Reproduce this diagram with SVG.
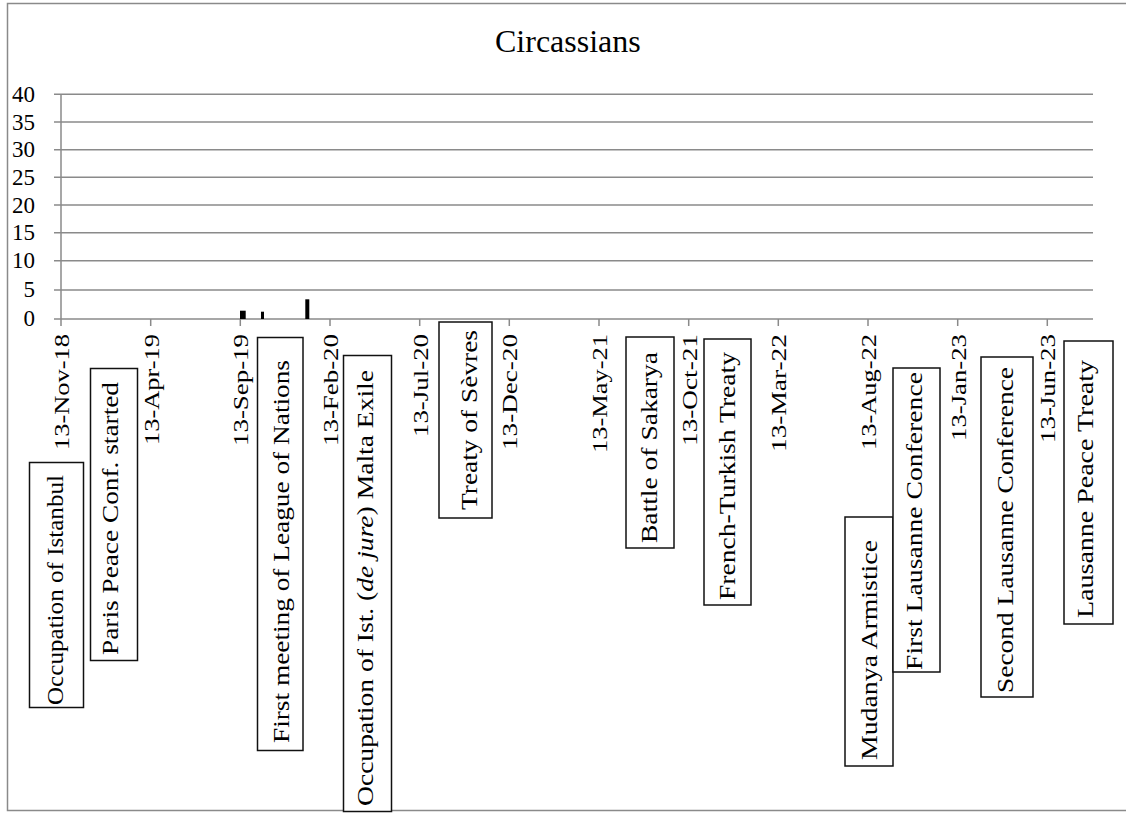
<svg xmlns="http://www.w3.org/2000/svg" width="1126" height="813" viewBox="0 0 1126 813">
<rect x="0" y="0" width="1126" height="813" fill="#fff"/>
<rect x="7.5" y="3.5" width="1130" height="807" fill="none" stroke="#8a8a8a" stroke-width="1.5"/>
<text x="495" y="52" font-size="32" font-family="Times New Roman">Circassians</text>
<g id="axes">
<path fill="none" stroke="#8a8a8a" stroke-width="1.5" d="M54 94.3H1093M54 122H1093M54 149.7H1093M54 177.3H1093M54 205H1093M54 232.7H1093M54 260.7H1093M54 290H1093M54 319H1093"/>
<path fill="none" stroke="#8a8a8a" stroke-width="1.5" d="M61 94.3V326M150.7 319V326M240.3 319V326M330 319V326M419.7 319V326M509.3 319V326M599 319V326M688.7 319V326M778.3 319V326M868 319V326M957.7 319V326M1047.3 319V326"/>
<text font-size="23" font-family="Times New Roman" x="12" y="102">40</text>
<text font-size="23" font-family="Times New Roman" x="12" y="129.5">35</text>
<text font-size="23" font-family="Times New Roman" x="12" y="157">30</text>
<text font-size="23" font-family="Times New Roman" x="12" y="185">25</text>
<text font-size="23" font-family="Times New Roman" x="12" y="212.5">20</text>
<text font-size="23" font-family="Times New Roman" x="12" y="240">15</text>
<text font-size="23" font-family="Times New Roman" x="12" y="268">10</text>
<text font-size="23" font-family="Times New Roman" x="23.5" y="297">5</text>
<text font-size="23" font-family="Times New Roman" x="23.5" y="326">0</text>
<text font-size="22" font-family="Times New Roman" transform="translate(69,450) rotate(-90)" textLength="116" lengthAdjust="spacingAndGlyphs">13-Nov-18</text>
<text font-size="22" font-family="Times New Roman" transform="translate(158.7,445) rotate(-90)" textLength="111" lengthAdjust="spacingAndGlyphs">13-Apr-19</text>
<text font-size="22" font-family="Times New Roman" transform="translate(248.3,446) rotate(-90)" textLength="112" lengthAdjust="spacingAndGlyphs">13-Sep-19</text>
<text font-size="22" font-family="Times New Roman" transform="translate(338,446) rotate(-90)" textLength="112" lengthAdjust="spacingAndGlyphs">13-Feb-20</text>
<text font-size="22" font-family="Times New Roman" transform="translate(427.7,437) rotate(-90)" textLength="103" lengthAdjust="spacingAndGlyphs">13-Jul-20</text>
<text font-size="22" font-family="Times New Roman" transform="translate(517.3,450) rotate(-90)" textLength="116" lengthAdjust="spacingAndGlyphs">13-Dec-20</text>
<text font-size="22" font-family="Times New Roman" transform="translate(607,453) rotate(-90)" textLength="119" lengthAdjust="spacingAndGlyphs">13-May-21</text>
<text font-size="22" font-family="Times New Roman" transform="translate(696.7,446) rotate(-90)" textLength="112" lengthAdjust="spacingAndGlyphs">13-Oct-21</text>
<text font-size="22" font-family="Times New Roman" transform="translate(786.3,452) rotate(-90)" textLength="118" lengthAdjust="spacingAndGlyphs">13-Mar-22</text>
<text font-size="22" font-family="Times New Roman" transform="translate(876,450) rotate(-90)" textLength="116" lengthAdjust="spacingAndGlyphs">13-Aug-22</text>
<text font-size="22" font-family="Times New Roman" transform="translate(965.7,441) rotate(-90)" textLength="107" lengthAdjust="spacingAndGlyphs">13-Jan-23</text>
<text font-size="22" font-family="Times New Roman" transform="translate(1055.3,443) rotate(-90)" textLength="109" lengthAdjust="spacingAndGlyphs">13-Jun-23</text>
</g>
<g id="bars" fill="#000">
<rect x="240" y="310.7" width="5.7" height="8.3"/>
<rect x="261" y="311.7" width="3" height="7.3"/>
<rect x="305.3" y="299.3" width="4" height="19.7"/>
</g>
<g id="labels" stroke-width="1.5">
<g id="label-istanbul"><rect fill="#fff" stroke="#111" x="29.5" y="462.5" width="54" height="245"/><text font-size="23" font-family="Times New Roman" transform="translate(63,705) rotate(-90)" textLength="230" lengthAdjust="spacingAndGlyphs">Occupation of Istanbul</text></g>
<g id="label-paris"><rect fill="#fff" stroke="#111" x="90.5" y="368.5" width="47" height="292"/><text font-size="23" font-family="Times New Roman" transform="translate(118,655) rotate(-90)" textLength="273" lengthAdjust="spacingAndGlyphs">Paris Peace Conf. started</text></g>
<g id="label-league"><rect fill="#fff" stroke="#111" x="257.5" y="337.5" width="45.5" height="413"/><text font-size="23" font-family="Times New Roman" transform="translate(289,743) rotate(-90)" textLength="383" lengthAdjust="spacingAndGlyphs">First meeting of League of Nations</text></g>
<g id="label-malta"><rect fill="#fff" stroke="#111" x="343.5" y="355.5" width="48" height="456"/><text font-size="23" font-family="Times New Roman" transform="translate(373,806) rotate(-90)" textLength="436" lengthAdjust="spacingAndGlyphs">Occupation of Ist. (<tspan font-style="italic">de jure</tspan>) Malta Exile</text></g>
<g id="label-sevres"><rect fill="#fff" stroke="#111" x="439" y="322" width="53" height="196"/><text font-size="23" font-family="Times New Roman" transform="translate(477,510) rotate(-90)" textLength="180" lengthAdjust="spacingAndGlyphs">Treaty of Sèvres</text></g>
<g id="label-sakarya"><rect fill="#fff" stroke="#111" x="626" y="337" width="48" height="211"/><text font-size="23" font-family="Times New Roman" transform="translate(657,543) rotate(-90)" textLength="191" lengthAdjust="spacingAndGlyphs">Battle of Sakarya</text></g>
<g id="label-french"><rect fill="#fff" stroke="#111" x="704" y="339" width="47" height="266"/><text font-size="23" font-family="Times New Roman" transform="translate(735,600) rotate(-90)" textLength="248" lengthAdjust="spacingAndGlyphs">French-Turkish Treaty</text></g>
<g id="label-mudanya"><rect fill="#fff" stroke="#111" x="845" y="517" width="48" height="249"/><text font-size="23" font-family="Times New Roman" transform="translate(877,760) rotate(-90)" textLength="220" lengthAdjust="spacingAndGlyphs">Mudanya Armistice</text></g>
<g id="label-first-lausanne"><rect fill="#fff" stroke="#111" x="893" y="368" width="47" height="304"/><text font-size="23" font-family="Times New Roman" transform="translate(922,670) rotate(-90)" textLength="298" lengthAdjust="spacingAndGlyphs">First Lausanne Conference</text></g>
<g id="label-second-lausanne"><rect fill="#fff" stroke="#111" x="981" y="357" width="52" height="340"/><text font-size="23" font-family="Times New Roman" transform="translate(1013,693) rotate(-90)" textLength="326" lengthAdjust="spacingAndGlyphs">Second Lausanne Conference</text></g>
<g id="label-lausanne-peace"><rect fill="#fff" stroke="#111" x="1064" y="341" width="49" height="283"/><text font-size="23" font-family="Times New Roman" transform="translate(1093,618) rotate(-90)" textLength="258" lengthAdjust="spacingAndGlyphs">Lausanne Peace Treaty</text></g>
</g>
</svg>
